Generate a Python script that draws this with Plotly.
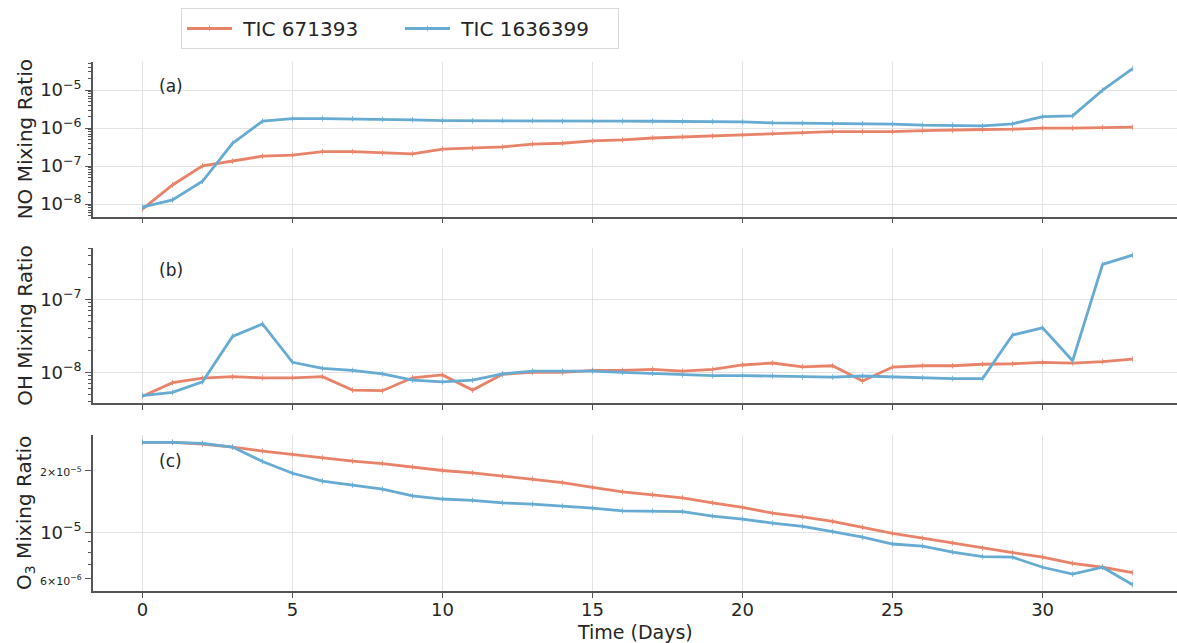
import math
import plotly.graph_objects as go

days = list(range(34))

no_671393 = [7.4e-9, 3.2e-8, 1.02e-7, 1.35e-7, 1.83e-7, 1.95e-7, 2.4e-7, 2.4e-7, 2.2e-7, 2.1e-7,
             2.8e-7, 2.97e-7, 3.2e-7, 3.8e-7, 4.0e-7, 4.6e-7, 4.9e-7, 5.5e-7, 5.9e-7, 6.2e-7,
             6.6e-7, 7.3e-7, 7.5e-7, 8.1e-7, 8.1e-7, 8.1e-7, 8.6e-7, 8.7e-7, 9.2e-7, 9.4e-7,
             1.0e-6, 1.0e-6, 1.04e-6, 1.06e-6]
no_1636399 = [8.3e-9, 1.3e-8, 4.0e-8, 4.0e-7, 1.53e-6, 1.79e-6, 1.79e-6, 1.76e-6, 1.7e-6, 1.65e-6,
              1.58e-6, 1.56e-6, 1.6e-6, 1.57e-6, 1.53e-6, 1.53e-6, 1.53e-6, 1.52e-6, 1.5e-6, 1.5e-6,
              1.47e-6, 1.37e-6, 1.35e-6, 1.33e-6, 1.3e-6, 1.28e-6, 1.2e-6, 1.2e-6, 1.15e-6, 1.3e-6,
              2.0e-6, 2.1e-6, 1.0e-5, 3.7e-5]

oh_671393 = [4.7e-9, 7.2e-9, 8.3e-9, 8.7e-9, 8.4e-9, 8.4e-9, 8.7e-9, 5.7e-9, 5.6e-9, 8.4e-9,
             9.2e-9, 5.7e-9, 9.4e-9, 1.0e-8, 1.0e-8, 1.06e-8, 1.06e-8, 1.1e-8, 1.04e-8, 1.1e-8,
             1.26e-8, 1.34e-8, 1.19e-8, 1.23e-8, 7.6e-9, 1.18e-8, 1.23e-8, 1.23e-8, 1.29e-8, 1.31e-8,
             1.37e-8, 1.34e-8, 1.4e-8, 1.52e-8]
oh_1636399 = [4.8e-9, 5.3e-9, 7.4e-9, 3.1e-8, 4.6e-8, 1.37e-8, 1.13e-8, 1.06e-8, 9.5e-9, 7.8e-9,
              7.4e-9, 7.8e-9, 9.5e-9, 1.04e-8, 1.04e-8, 1.04e-8, 1.0e-8, 9.7e-9, 9.2e-9, 9.0e-9,
              9.0e-9, 8.9e-9, 8.6e-9, 8.6e-9, 8.9e-9, 8.6e-9, 8.4e-9, 8.2e-9, 8.2e-9, 3.24e-8,
              4.07e-8, 1.44e-8, 3.02e-7, 4.05e-7]

o3_671393 = [2.72e-5, 2.72e-5, 2.67e-5, 2.58e-5, 2.47e-5, 2.38e-5, 2.29e-5, 2.21e-5, 2.15e-5, 2.07e-5,
             1.99e-5, 1.94e-5, 1.87e-5, 1.81e-5, 1.74e-5, 1.65e-5, 1.57e-5, 1.52e-5, 1.47e-5, 1.39e-5,
             1.32e-5, 1.24e-5, 1.19e-5, 1.13e-5, 1.06e-5, 9.9e-6, 9.4e-6, 8.9e-6, 8.4e-6, 8.0e-6,
             7.6e-6, 7.1e-6, 6.8e-6, 6.4e-6]
o3_1636399 = [2.72e-5, 2.72e-5, 2.69e-5, 2.58e-5, 2.2e-5, 1.93e-5, 1.77e-5, 1.69e-5, 1.62e-5, 1.5e-5,
              1.45e-5, 1.43e-5, 1.39e-5, 1.37e-5, 1.34e-5, 1.31e-5, 1.27e-5, 1.27e-5, 1.26e-5, 1.2e-5,
              1.16e-5, 1.11e-5, 1.07e-5, 1.01e-5, 9.5e-6, 8.8e-6, 8.6e-6, 8.05e-6, 7.65e-6, 7.6e-6,
              6.8e-6, 6.3e-6, 6.8e-6, 5.6e-6]

series_names = ["TIC 671393", "TIC 1636399"]
colors = ["#E8836A", "#68ABD2"]
panel_labels = ["(a)", "(b)", "(c)"]
y_titles = ["NO Mixing Ratio", "OH Mixing Ratio", "O<sub>3</sub> Mixing Ratio"]
x_ticks = [0, 5, 10, 15, 20, 25, 30]

W, H = 1177, 643
ML, MR, MT, MB = 93, 0, 62, 52
PH = H - MT - MB
PW = W - ML - MR


def py(px):
    return (H - MB - px) / PH


def pxx(px):
    return (px - ML) / PW


domains = [[py(216.7), 1.0], [py(403.3), py(248.3)], [0.0, py(435)]]
yranges = [[-8.33, -4.26], [-8.425, -6.30], [-5.282, -4.53]]
label_y = [86, 270, 461]


def sup(e):
    return "10<sup>\u2212%d</sup>" % e


fig = go.Figure()
data = [(no_671393, no_1636399), (oh_671393, oh_1636399), (o3_671393, o3_1636399)]
TXT = "#262626"
AX = "#555555"
GRID = "#E3E3E3"

for i, (a, b) in enumerate(data):
    ax = "" if i == 0 else str(i + 1)
    for j, vals in enumerate((a, b)):
        fig.add_trace(go.Scatter(
            x=days, y=vals, mode="lines+markers", name="\u00a0" + series_names[j],
            line=dict(color=colors[j], width=2.8),
            marker=dict(symbol="line-ns", size=4, line=dict(color=colors[j], width=0.8), color=colors[j]),
            showlegend=(i == 0), xaxis="x" + ax, yaxis="y" + ax))


def minor_vals(lo, hi):
    out = []
    for e in range(-10, -3):
        for m in range(2, 10):
            v = m * 10 ** e
            if lo <= math.log10(v) <= hi:
                out.append(v)
    return out


layout = dict(
    width=W, height=H, margin=dict(l=ML, r=MR, t=MT, b=MB),
    paper_bgcolor="white", plot_bgcolor="white",
    font=dict(family="DejaVu Sans", color=TXT, size=18),
    legend=dict(orientation="h", x=pxx(181), y=py(8), xanchor="left", yanchor="top",
                bordercolor="#D9D9D9", borderwidth=1, bgcolor="white",
                font=dict(size=20, color=TXT), itemwidth=45, entrywidth=158,
                tracegroupgap=0),
    showlegend=True,
)

ytick_specs = [
    ([1e-8, 1e-7, 1e-6, 1e-5], [sup(8), sup(7), sup(6), sup(5)]),
    ([1e-8, 1e-7], [sup(8), sup(7)]),
    ([6e-6, 1e-5, 2e-5], ["<span style='font-size:11px'>6\u00d710<sup>\u22126</sup></span>", sup(5),
                          "<span style='font-size:11px'>2\u00d710<sup>\u22125</sup></span>"]),
]

for i in range(3):
    ax = "" if i == 0 else str(i + 1)
    xa = dict(domain=[0, 1], range=[-1.65, 34.48], anchor="y" + ax,
              tickmode="array", tickvals=x_ticks, showticklabels=(i == 2),
              ticks="outside", ticklen=5, tickwidth=1.2, tickcolor=AX,
              showline=True, linecolor=AX, linewidth=1.5, mirror=False,
              showgrid=True, gridcolor=GRID, gridwidth=1, zeroline=False,
              tickfont=dict(size=18, color=TXT), ticklabelstandoff=-3)
    tv, tt = ytick_specs[i]
    mv = [v for v in minor_vals(*yranges[i]) if v not in tv]
    ya = dict(domain=domains[i], type="log", range=yranges[i], anchor="x" + ax,
              tickmode="array", tickvals=tv, ticktext=tt,
              ticks="outside", ticklen=6, tickwidth=1.2, tickcolor=AX,
              showline=True, linecolor=AX, linewidth=1.5,
              showgrid=(i != 2), gridcolor=GRID, gridwidth=1, zeroline=False,
              tickfont=dict(size=18, color=TXT),
              minor=dict(tickmode="array", tickvals=mv, ticks="outside", ticklen=3,
                         tickwidth=1, tickcolor=AX, showgrid=False))
    layout["xaxis" + ax] = xa
    layout["yaxis" + ax] = ya

fig.update_layout(**layout)

# major gridline for panel (c)
fig.add_shape(type="line", xref="x3 domain", yref="y3", x0=0, x1=1, y0=1e-5, y1=1e-5,
              line=dict(color=GRID, width=1), layer="below")

# x-axis title
fig.add_annotation(text="Time (Days)", xref="paper", yref="paper",
                   x=0.5, y=py(632), xanchor="center", yanchor="middle",
                   showarrow=False, font=dict(size=19, color=TXT))

for i in range(3):
    fig.add_annotation(text=panel_labels[i], xref="paper", yref="paper",
                       x=pxx(157), y=py(label_y[i]), xanchor="left", yanchor="middle",
                       showarrow=False, font=dict(size=17, color=TXT))
    ymid = (domains[i][0] + domains[i][1]) / 2
    fig.add_annotation(text=y_titles[i], xref="paper", yref="paper",
                       x=pxx(25), y=ymid, xanchor="center", yanchor="middle",
                       textangle=-90, showarrow=False, font=dict(size=20, color=TXT))

fig.write_html("out.html")
